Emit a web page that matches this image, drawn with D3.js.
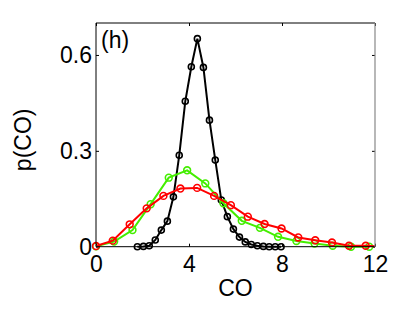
<!DOCTYPE html>
<html>
<head>
<meta charset="utf-8">
<script src="https://cdn.jsdelivr.net/npm/d3@7"></script>
<style>
  body { margin: 0; background: #fff; }
  text { font-family: 'Liberation Sans', Arial, sans-serif; }
</style>
</head>
<body>
<div id="chart"></div>
<script>
const xTicks = [0, 4, 8, 12]
const yTicks = [0, 0.3, 0.6]

// black series
const blackX = [1.78, 2.04, 2.29, 2.55, 2.81, 3.07, 3.33, 3.58, 3.84, 4.10, 4.36, 4.62, 4.88, 5.13, 5.39, 5.65, 5.91, 6.17, 6.42, 6.68, 6.94, 7.20, 7.45, 7.71, 7.96]
const blackY = [0, 0.001, 0.003, 0.021, 0.052, 0.08, 0.156, 0.286, 0.455, 0.563, 0.651, 0.561, 0.396, 0.271, 0.146, 0.094, 0.055, 0.03, 0.015, 0.007, 0.003, 0.001, 0, 0, 0]

// green series
const greenX = [0, 0.78, 1.57, 2.35, 3.13, 3.92, 4.70, 5.48, 6.27, 7.05, 7.83, 8.62, 9.40, 10.18, 10.97, 11.75]
const greenY = [0.001, 0.016, 0.052, 0.133, 0.216, 0.239, 0.198, 0.136, 0.081, 0.059, 0.031, 0.018, 0.01, 0.003, 0, 0]

// red series
const redX = [0, 0.72, 1.45, 2.18, 2.9, 3.63, 4.35, 5.08, 5.8, 6.53, 7.25, 7.98, 8.7, 9.43, 10.15, 10.88, 11.6, 12.33]
const redY = [0.002, 0.019, 0.07, 0.12, 0.159, 0.182, 0.184, 0.159, 0.13, 0.094, 0.071, 0.057, 0.029, 0.02, 0.013, 0.003, 0.003, 0]

const W = 415
const H = 313
const pLeft = 96
const pRight = 375
const pTop = 23
const pBottom = 246.7

const x = d3.scaleLinear().domain([0, 12]).range([pLeft, pRight])
const y = d3.scaleLinear().domain([0, 0.7]).range([pBottom, pTop])

const svg = d3.select('#chart').append('svg').attr('width', W).attr('height', H)

svg.append('defs').append('clipPath').attr('id', 'clip')
  .append('rect')
  .attr('x', pLeft - 6).attr('y', pTop)
  .attr('width', pRight - pLeft + 6).attr('height', pBottom - pTop + 6)

const fontSize = 23

const xAxis = svg.append('g')
  .attr('transform', `translate(0, ${pBottom})`)
  .call(d3.axisBottom(x).tickValues(xTicks).tickSize(-3).tickPadding(9).tickFormat(d3.format('d')))
const xTop = svg.append('g')
  .attr('transform', `translate(0, ${pTop})`)
  .call(d3.axisTop(x).tickValues(xTicks).tickSize(-3).tickFormat(''))
const yAxis = svg.append('g')
  .attr('transform', `translate(${pLeft}, 0)`)
  .call(d3.axisLeft(y).tickValues(yTicks).tickSize(-3).tickPadding(4).tickFormat((d) => (d === 0 ? '0' : d3.format('.1f')(d))))
const yRight = svg.append('g')
  .attr('transform', `translate(${pRight}, 0)`)
  .call(d3.axisRight(y).tickValues(yTicks).tickSize(-3).tickFormat(''))

;[xAxis, xTop, yAxis, yRight].forEach((g) => {
  g.select('.domain').remove()
  g.selectAll('line').attr('stroke', '#000')
  g.selectAll('text').attr('font-size', fontSize).attr('fill', '#000')
    .attr('font-family', "'Liberation Sans', Arial, sans-serif")
})

const series = [
  { xs: blackX, ys: blackY, color: '#000000', r: 3 },
  { xs: greenX, ys: greenY, color: '#44ee00', r: 3.4 },
  { xs: redX, ys: redY, color: '#ff0000', r: 3.4 },
]

const line = d3.line().x((d) => x(d[0])).y((d) => y(d[1]))
const plot = svg.append('g').attr('clip-path', 'url(#clip)')

series.forEach((s) => {
  const pts = s.xs.map((v, i) => [v, s.ys[i]])
  plot.append('path')
    .datum(pts)
    .attr('d', line)
    .attr('fill', 'none')
    .attr('stroke', s.color)
    .attr('stroke-width', 2)
  plot.selectAll(null)
    .data(pts)
    .enter()
    .append('circle')
    .attr('cx', (d) => x(d[0]))
    .attr('cy', (d) => y(d[1]))
    .attr('r', s.r)
    .attr('fill', 'none')
    .attr('stroke', s.color)
    .attr('stroke-width', 1.6)
})

// box
svg.append('path')
  .attr('d', `M${pLeft},${pBottom}V${pTop}H${pRight}`)
  .attr('fill', 'none').attr('stroke', '#000').attr('stroke-width', 1)
svg.append('line')
  .attr('x1', pLeft).attr('x2', pRight).attr('y1', pBottom).attr('y2', pBottom)
  .attr('stroke', '#000').attr('stroke-width', 1)
svg.append('line')
  .attr('x1', pRight).attr('x2', pRight).attr('y1', pTop).attr('y2', pBottom)
  .attr('stroke', '#888').attr('stroke-width', 1.2)

svg.append('text')
  .attr('x', (pLeft + pRight) / 2).attr('y', 296)
  .attr('text-anchor', 'middle').attr('font-size', fontSize)
  .text('CO')

svg.append('text')
  .attr('transform', `translate(31, ${(pTop + pBottom) / 2 + 5}) rotate(-90)`)
  .attr('text-anchor', 'middle').attr('font-size', fontSize)
  .text('p(CO)')

svg.append('text')
  .attr('x', 101).attr('y', 48)
  .attr('font-size', fontSize)
  .text('(h)')
</script>
</body>
</html>
